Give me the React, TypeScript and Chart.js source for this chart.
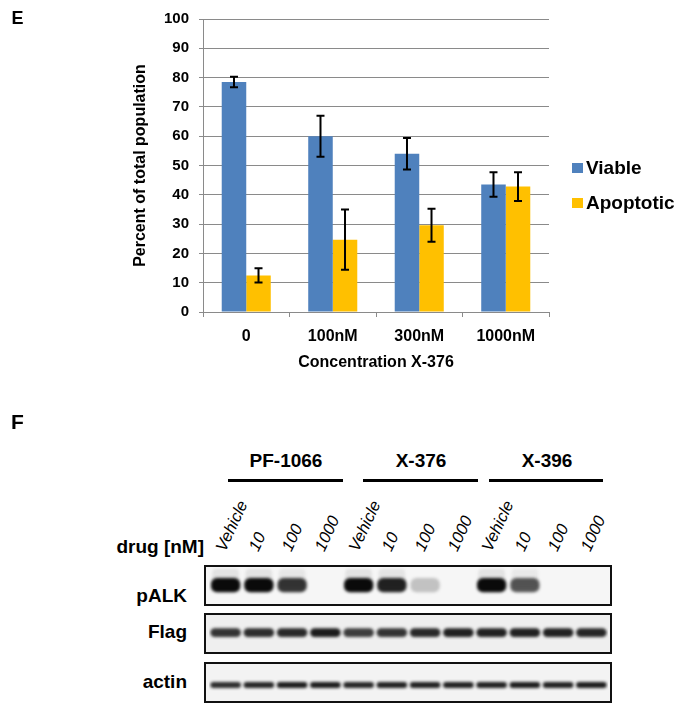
import React, { useEffect, useRef } from 'react';
import { Chart, registerables } from 'chart.js';

Chart.register(...registerables);

const FONT = "'Liberation Sans', Arial, Helvetica, sans-serif";

// ---------- Panel E data ----------
const concentrations = ['0', '100nM', '300nM', '1000nM'];
const viable = [78.5, 60.0, 54.0, 43.5];
const viableErr = [1.8, 7.0, 5.4, 4.2];
const apoptotic = [12.5, 24.7, 29.6, 42.8];
const apoptoticErr = [2.4, 10.3, 5.6, 4.9];
const seriesNames = ['Viable', 'Apoptotic'];
const seriesColors = ['#4F81BD', '#FFC000'];
const yMin = 0;
const yMax = 100;
const yStep = 10;
const xTitle = 'Concentration X-376';
const yTitle = 'Percent of total population';

// ---------- Panel F data ----------
const drugs = ['PF-1066', 'X-376', 'X-396'];
const doses = ['Vehicle', '10', '100', '1000'];
const blotRows = ['pALK', 'Flag', 'actin'];
const pALK = [1.0, 1.0, 0.82, 0, 1.0, 0.9, 0.22, 0, 1.0, 0.68, 0, 0];
const flag = [0.82, 0.85, 0.87, 0.92, 0.78, 0.82, 0.87, 0.9, 0.9, 0.9, 0.9, 0.88];
const actin = [0.85, 0.88, 0.92, 0.92, 0.88, 0.9, 0.9, 0.9, 0.9, 0.92, 0.9, 0.92];

// ---------- layout constants ----------
const BLOT_LEFT = 209;
const BLOT_W = 399;
const BLOT_TOP = 565;
const BLOT_H = 138;
const ROW_CENTER = [0.44, 1.47, 2.61];
const ROW_HALF = [0.155, 0.095, 0.065];
const ROW_BAR_PCT = [0.88, 0.92, 0.92];
const BOXES = [
  { top: 565, h: 41, bg: '#f6f6f6' },
  { top: 613, h: 41, bg: '#efefef' },
  { top: 662, h: 41, bg: '#f3f3f3' },
];

const errorBars = {
  id: 'errorBars',
  afterDatasetsDraw(chart: any) {
    const ctx = chart.ctx;
    const y = chart.scales.y;
    ctx.save();
    ctx.strokeStyle = '#000';
    ctx.lineWidth = 2;
    chart.data.datasets.forEach((ds: any, i: number) => {
      const meta = chart.getDatasetMeta(i);
      meta.data.forEach((bar: any, j: number) => {
        const v = ds.data[j];
        const e = ds.errors[j];
        const top = y.getPixelForValue(v + e);
        const bot = y.getPixelForValue(v - e);
        const x = bar.x;
        const cap = 4;
        ctx.beginPath();
        ctx.moveTo(x, top);
        ctx.lineTo(x, bot);
        ctx.moveTo(x - cap, top);
        ctx.lineTo(x + cap, top);
        ctx.moveTo(x - cap, bot);
        ctx.lineTo(x + cap, bot);
        ctx.stroke();
      });
    });
    ctx.restore();
  },
};

const sideLegend = {
  id: 'sideLegend',
  afterDraw(chart: any) {
    const ctx = chart.ctx;
    const { right, top } = chart.chartArea;
    ctx.save();
    ctx.font = `bold 19px ${FONT}`;
    ctx.textBaseline = 'middle';
    ctx.textAlign = 'left';
    chart.data.datasets.forEach((ds: any, i: number) => {
      const cy = top + 149 + i * 35;
      ctx.fillStyle = ds.backgroundColor;
      ctx.fillRect(right + 23, cy - 5, 11, 10);
      ctx.fillStyle = '#000';
      ctx.fillText(ds.label, right + 37, cy + 1);
    });
    ctx.restore();
  },
};

const blurPlugin = {
  id: 'blurBands',
  beforeDatasetsDraw(chart: any) {
    chart.ctx.save();
    chart.ctx.filter = 'blur(1.7px)';
  },
  afterDatasetsDraw(chart: any) {
    chart.ctx.restore();
  },
};

function Txt({ x, y, size, children, align = 'center', weight = 'bold', style = {} }: any) {
  const tr =
    align === 'center' ? 'translate(-50%,-50%)' : align === 'right' ? 'translate(-100%,-50%)' : 'translate(0,-50%)';
  return (
    <div
      style={{
        position: 'absolute',
        left: x,
        top: y,
        fontSize: size,
        fontWeight: weight,
        lineHeight: 1,
        whiteSpace: 'nowrap',
        transform: tr,
        ...style,
      }}
    >
      {children}
    </div>
  );
}

export default function App() {
  const barRef = useRef<HTMLCanvasElement>(null);
  const blotRef = useRef<HTMLCanvasElement>(null);

  useEffect(() => {
    const tickFont = { family: FONT, weight: 'bold' as const };
    const chart = new Chart(barRef.current!, {
      type: 'bar',
      data: {
        labels: concentrations,
        datasets: [
          { label: seriesNames[0], data: viable, backgroundColor: seriesColors[0], errors: viableErr } as any,
          { label: seriesNames[1], data: apoptotic, backgroundColor: seriesColors[1], errors: apoptoticErr } as any,
        ],
      },
      options: {
        animation: false,
        responsive: false,
        devicePixelRatio: 1,
        layout: { padding: { left: 127, right: 130, top: 16, bottom: 0 } },
        datasets: { bar: { barPercentage: 1, categoryPercentage: 0.567 } },
        plugins: { legend: { display: false }, tooltip: { enabled: false } },
        scales: {
          x: {
            grid: { offset: true, drawOnChartArea: false, color: '#8a8a8a', tickLength: 5 },
            border: { color: '#8a8a8a' },
            ticks: { font: { ...tickFont, size: 16 }, color: '#000', padding: 10 },
            title: {
              display: true,
              text: xTitle,
              font: { ...tickFont, size: 16 },
              color: '#000',
              padding: { top: 0, bottom: 8 },
            },
            afterFit: (s: any) => {
              s.height = 68;
            },
          },
          y: {
            min: yMin,
            max: yMax,
            grid: { color: '#8a8a8a', tickLength: 4 },
            border: { color: '#8a8a8a' },
            ticks: { stepSize: yStep, font: { ...tickFont, size: 15 }, color: '#000', padding: 10 },
            title: {
              display: true,
              text: yTitle,
              font: { ...tickFont, size: 16 },
              color: '#000',
              padding: { top: 4, bottom: 4 },
            },
            afterFit: (s: any) => {
              s.width = 76;
            },
          },
        },
      },
      plugins: [errorBars, sideLegend],
    });

    const lanes = drugs.flatMap((d) => doses.map((dose) => `${d} ${dose}`));
    const rowsData = [pALK, flag, actin];
    const bandSets: any[] = rowsData.map((vals, r) => ({
      label: blotRows[r],
      data: vals.map((v) => (v > 0 ? [ROW_CENTER[r] - ROW_HALF[r], ROW_CENTER[r] + ROW_HALF[r]] : null)),
      backgroundColor: vals.map((v) => `rgba(10,10,10,${v})`),
      barPercentage: ROW_BAR_PCT[r],
      categoryPercentage: 1,
      borderRadius: 6,
      borderSkipped: false,
      grouped: false,
    }));
    // faint smear above strong pALK bands
    bandSets.push({
      label: 'pALK smear',
      data: pALK.map((v) => (v > 0.5 ? [ROW_CENTER[0] - 0.36, ROW_CENTER[0] + 0.05] : null)),
      backgroundColor: pALK.map((v) => `rgba(60,60,60,${v * 0.1})`),
      barPercentage: 0.8,
      categoryPercentage: 1,
      borderRadius: 4,
      borderSkipped: false,
      grouped: false,
    });

    const blot = new Chart(blotRef.current!, {
      type: 'bar',
      data: { labels: lanes, datasets: bandSets },
      options: {
        animation: false,
        responsive: false,
        devicePixelRatio: 1,
        layout: { padding: 0 },
        plugins: { legend: { display: false }, tooltip: { enabled: false } },
        scales: {
          x: { display: false, offset: true },
          y: { display: false, min: 0, max: 3, reverse: true },
        },
      },
      plugins: [blurPlugin],
    });

    return () => {
      chart.destroy();
      blot.destroy();
    };
  }, []);

  const laneX = (lane: number) => BLOT_LEFT + (BLOT_W / 12) * (lane + 0.5);
  const groupLines = [
    { l: 228, r: 343 },
    { l: 363, r: 478 },
    { l: 489, r: 603 },
  ];
  const groupCenters = [286, 421, 547];
  const rowLabelY = [595, 631, 681];

  return (
    <div
      style={{
        position: 'absolute',
        left: 0,
        top: 0,
        width: 679,
        height: 712,
        background: '#fff',
        fontFamily: FONT,
        color: '#000',
        overflow: 'hidden',
      }}
    >
      <canvas ref={barRef} width={679} height={380} style={{ position: 'absolute', left: 0, top: 0 }} />
      <Txt x={17.5} y={18} size={18}>E</Txt>
      <Txt x={17.5} y={421} size={21}>F</Txt>

      {drugs.map((d, g) => (
        <React.Fragment key={d}>
          <Txt x={groupCenters[g]} y={460} size={19}>{d}</Txt>
          <div
            style={{
              position: 'absolute',
              left: groupLines[g].l,
              top: 479,
              width: groupLines[g].r - groupLines[g].l,
              height: 3,
              background: '#000',
            }}
          />
        </React.Fragment>
      ))}

      <Txt x={204} y={546} size={19} align="right">drug [nM]</Txt>

      {drugs.flatMap((d, g) =>
        doses.map((dose, k) => {
          const lane = g * 4 + k;
          return (
            <div
              key={`${d}-${dose}`}
              style={{
                position: 'absolute',
                left: laneX(lane) - 6,
                top: 550,
                fontSize: 16.5,
                fontStyle: 'italic',
                lineHeight: 1,
                whiteSpace: 'nowrap',
                transformOrigin: '0 50%',
                transform: 'translateY(-50%) rotate(-65deg)',
              }}
            >
              {dose}
            </div>
          );
        })
      )}

      {BOXES.map((b, i) => (
        <div
          key={i}
          style={{
            position: 'absolute',
            left: 204,
            top: b.top,
            width: 408,
            height: b.h,
            boxSizing: 'border-box',
            border: '2px solid #111',
            background: b.bg,
          }}
        />
      ))}
      <canvas
        ref={blotRef}
        width={BLOT_W}
        height={BLOT_H}
        style={{ position: 'absolute', left: BLOT_LEFT, top: BLOT_TOP }}
      />
      {blotRows.map((r, i) => (
        <Txt key={r} x={187} y={rowLabelY[i]} size={19} align="right">{r}</Txt>
      ))}
    </div>
  );
}
